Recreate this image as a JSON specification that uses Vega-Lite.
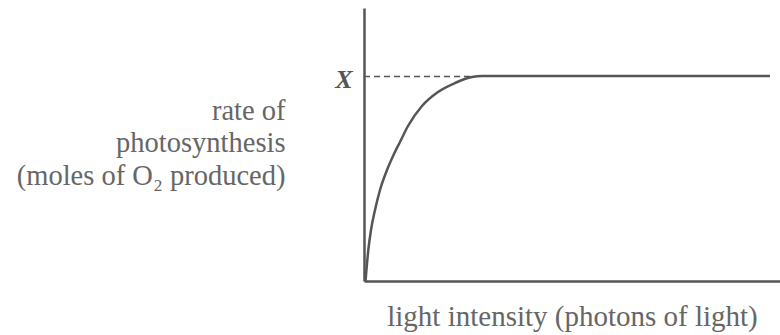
{
  "$schema": "https://vega.github.io/schema/vega-lite/v6.json",
  "width": 416,
  "height": 273,
  "autosize": {"type": "none"},
  "padding": {"left": 364, "top": 8, "right": 0, "bottom": 54},
  "background": "white",
  "config": {"view": {"stroke": null}, "font": "Liberation Serif"},
  "datasets": {
    "curve": [
      {"x": 1.5, "y": 0},
      {"x": 2.7, "y": 14},
      {"x": 4.3, "y": 31},
      {"x": 7, "y": 51},
      {"x": 11, "y": 71},
      {"x": 16, "y": 91},
      {"x": 23, "y": 111},
      {"x": 30, "y": 127},
      {"x": 36, "y": 139},
      {"x": 44, "y": 155},
      {"x": 58, "y": 175},
      {"x": 74, "y": 189},
      {"x": 91, "y": 198},
      {"x": 108, "y": 204},
      {"x": 118, "y": 205},
      {"x": 200, "y": 205},
      {"x": 300, "y": 205},
      {"x": 406, "y": 205}
    ],
    "dash": [{"x": 0, "x2": 110, "y": 204.5}]
  },
  "layer": [
    {
      "data": {"name": "curve"},
      "mark": {"type": "line", "interpolate": "monotone", "color": "#555555", "strokeWidth": 2.5},
      "encoding": {
        "x": {
          "field": "x", "type": "quantitative",
          "scale": {"domain": [0, 416], "nice": false, "zero": false},
          "axis": {
            "domainColor": "#555555", "domainWidth": 2.5, "ticks": false, "labels": false, "grid": false,
            "title": "light intensity (photons of light)",
            "titleFont": "Liberation Serif", "titleFontSize": 29, "titleFontWeight": "normal", "titleColor": "#666666",
            "titleX": 208, "titleY": 44, "titleBaseline": "alphabetic", "titleAlign": "center"
          }
        },
        "y": {
          "field": "y", "type": "quantitative",
          "scale": {"domain": [0, 273], "nice": false, "zero": false},
          "axis": {
            "domainColor": "#555555", "domainWidth": 2.5, "ticks": false, "grid": false,
            "values": [205], "labelExpr": "'X'",
            "labelFont": "Liberation Serif", "labelFontStyle": "italic", "labelFontWeight": "bold", "labelFontSize": 26,
            "labelColor": "#555555", "labelPadding": 12, "labelBaseline": "alphabetic", "labelOffset": 11,
            "title": ["rate of", "photosynthesis", "(moles of O₂ produced)"],
            "titleFont": "Liberation Serif", "titleFontSize": 28.5, "titleFontWeight": "normal", "titleColor": "#666666",
            "titleAngle": 0, "titleAlign": "right", "titleBaseline": "alphabetic",
            "titleX": -79, "titleY": 111, "titleLineHeight": 32.5
          }
        }
      }
    },
    {
      "data": {"name": "dash"},
      "mark": {"type": "rule", "color": "#555555", "strokeWidth": 1.5, "strokeDash": [6, 4]},
      "encoding": {
        "x": {"field": "x", "type": "quantitative"},
        "x2": {"field": "x2"},
        "y": {"field": "y", "type": "quantitative"}
      }
    }
  ]
}
